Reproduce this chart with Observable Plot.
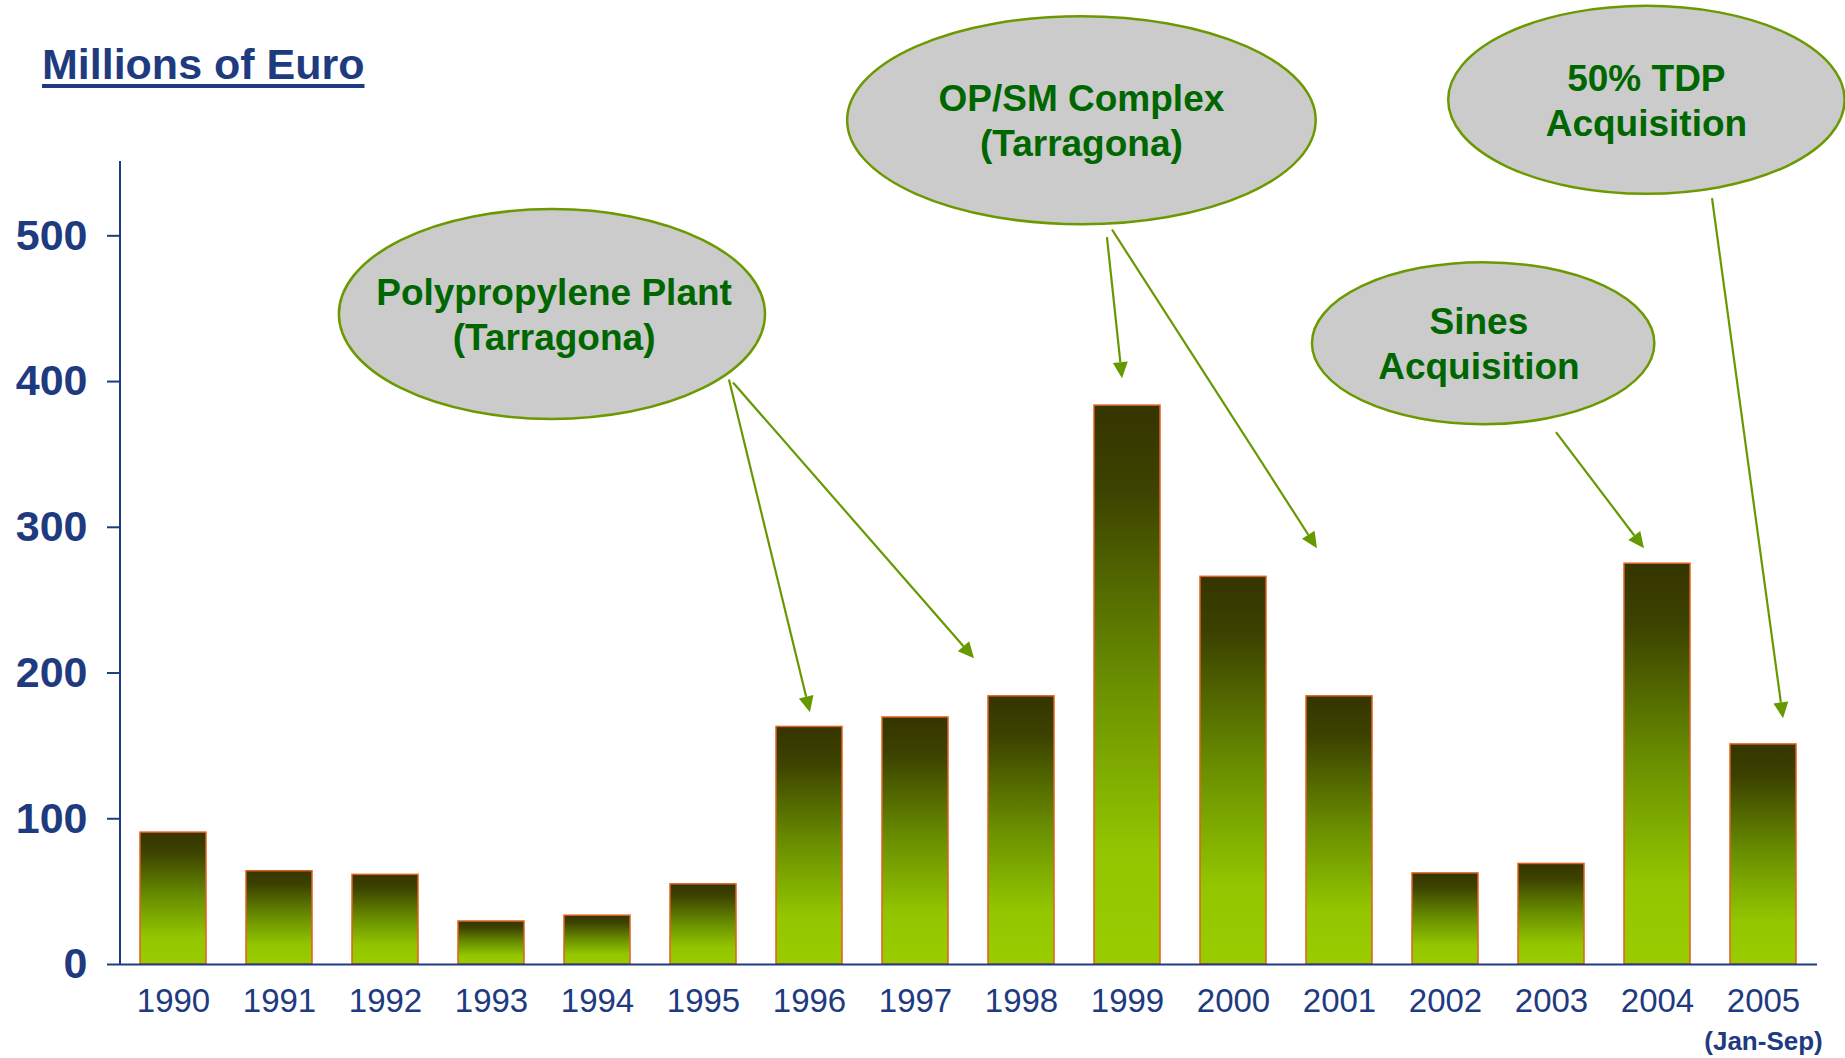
<!DOCTYPE html>
<html>
<head>
<meta charset="utf-8">
<script src="https://cdn.jsdelivr.net/npm/d3@7"></script>
<script src="https://cdn.jsdelivr.net/npm/@observablehq/plot@0.6"></script>
<style>
  html, body { margin: 0; padding: 0; background: #ffffff; }
  #wrap { position: relative; width: 1845px; height: 1058px; overflow: hidden; }
  #title {
    position: absolute; left: 42px; top: 43px;
    font: bold 43px "Liberation Sans", Arial, sans-serif; line-height: 43px;
    color: #1F3B7F; text-decoration: underline; text-decoration-thickness: 4px;
    text-underline-offset: 5px; white-space: nowrap;
  }
  #chart { position: absolute; left: 0; top: 0; }
</style>
</head>
<body>
<div id="wrap">
  <div id="chart"></div>
  <div id="title">Millions of Euro</div>
</div>
<script>
// ---- data ----
const years = ["1990","1991","1992","1993","1994","1995","1996","1997","1998","1999","2000","2001","2002","2003","2004","2005"];
const values = [90.5, 64, 61.5, 29.5, 33.5, 55, 163, 169.5, 184, 383.5, 266, 184, 62.5, 69, 275, 151];
const yTicks = [0, 100, 200, 300, 400, 500];
const footnote = "(Jan-Sep)";

// annotation callouts (position in band-index units along x, value units along y)
const calloutLines = [
  ["Polypropylene Plant", "(Tarragona)"],
  ["OP/SM Complex", "(Tarragona)"],
  ["50% TDP", "Acquisition"],
  ["Sines", "Acquisition"]
];
const calloutCenter = [[3.575, 446], [8.57, 579], [13.9, 593], [12.36, 426]];
const calloutRadius = [[2.01, 72], [2.21, 71.4], [1.87, 64.5], [1.615, 55.6]];
const calloutTextShift = [0.02, 0, 0, -0.04];
// arrows: [callout index, start idx, start value, tip idx, tip value]
const arrows = [
  [0, 5.245, 401, 6.009, 172.7],
  [0, 5.283, 399, 7.557, 209.8],
  [1, 8.811, 498.8, 8.953, 402],
  [1, 8.858, 504, 10.792, 285.3],
  [3, 13.047, 365, 13.877, 285.3],
  [2, 14.519, 525.5, 15.189, 168.6]
];

const data = years.map((year, i) => ({year, value: values[i]}));

const NAVY = "#1F3B7F";
const FONT = '"Liberation Sans", Arial, Helvetica, sans-serif';

function defsMark() {
  const defs = d3.create("svg:defs");
  const g = defs.append("linearGradient").attr("id", "barGrad")
    .attr("x1", 0).attr("y1", 0).attr("x2", 0).attr("y2", 1);
  [[0, "#353500"], [0.15, "#3c4200"], [0.5, "#6a9000"], [0.8, "#93c600"], [1, "#99cc00"]]
    .forEach(([o, c]) => g.append("stop").attr("offset", o).attr("stop-color", c));
  return defs.node();
}

function axisLineMark(index, scales, values, dims) {
  return d3.create("svg:line")
    .attr("x1", dims.marginLeft).attr("x2", dims.marginLeft)
    .attr("y1", dims.marginTop).attr("y2", dims.height - dims.marginBottom)
    .attr("stroke", NAVY).attr("stroke-width", 2).node();
}

function calloutMark(index, scales, values, dims) {
  const x = scales.x, y = scales.y;
  const step = x.step(), bw = x.bandwidth();
  const px = i => x(years[0]) + bw / 2 + i * step;
  const py = v => y(v);
  const k = y(0) - y(1);
  const g = d3.create("svg:g");
  // arrows
  for (const [, sx, sv, tx, tv] of arrows) {
    const x1 = px(sx), y1 = py(sv), x2 = px(tx), y2 = py(tv);
    const ang = Math.atan2(y2 - y1, x2 - x1);
    const L = 16, W = 7.5;
    const bx = x2 - L * Math.cos(ang), by = y2 - L * Math.sin(ang);
    g.append("line").attr("x1", x1).attr("y1", y1).attr("x2", bx).attr("y2", by)
      .attr("stroke", "#669900").attr("stroke-width", 2.2);
    const nx = -Math.sin(ang) * W, ny = Math.cos(ang) * W;
    g.append("polygon")
      .attr("points", `${x2},${y2} ${bx + nx},${by + ny} ${bx - nx},${by - ny}`)
      .attr("fill", "#669900");
  }
  // ellipses
  calloutLines.forEach((lines, i) => {
    const cx = px(calloutCenter[i][0]), cy = py(calloutCenter[i][1]);
    g.append("ellipse").attr("cx", cx).attr("cy", cy)
      .attr("rx", calloutRadius[i][0] * step).attr("ry", calloutRadius[i][1] * k)
      .attr("fill", "#CBCBCB").attr("stroke", "#6B9A00").attr("stroke-width", 2.5);
    const tx = px(calloutCenter[i][0] + calloutTextShift[i]);
    lines.forEach((t, j) => {
      g.append("text").attr("x", tx).attr("y", cy + (j === 0 ? -22 : 23) + 13)
        .attr("text-anchor", "middle").attr("font-family", FONT)
        .attr("font-size", 37).attr("font-weight", "bold").attr("fill", "#006600")
        .text(t);
    });
  });
  return g.node();
}

const plot = Plot.plot({
  width: 1845,
  height: 1058,
  marginLeft: 120,
  marginRight: 28,
  marginTop: 161,
  marginBottom: 94,
  style: {fontFamily: FONT, background: "transparent", overflow: "visible"},
  x: {type: "band", domain: years, paddingInner: 0.377, paddingOuter: 0.1885, label: null},
  y: {domain: [0, 551], label: null},
  marks: [
    defsMark,
    Plot.barY(data, {x: "year", y: "value", fill: "url(#barGrad)", stroke: "#E0601E", strokeWidth: 1.5}),
    Plot.ruleY([0], {stroke: NAVY, strokeWidth: 2}),
    axisLineMark,
    Plot.axisY({ticks: yTicks, tickSize: 13, tickPadding: 20, fontSize: 43, fontWeight: "bold",
      color: NAVY, strokeWidth: 2, strokeOpacity: 1, tickFormat: d => String(d), label: null}),
    Plot.axisX({tickSize: 0, tickPadding: 24, fontSize: 33, color: NAVY, label: null}),
    Plot.text([footnote], {x: ["2005"], frameAnchor: "bottom", dy: 77, fontSize: 26,
      fontWeight: "bold", fill: NAVY, lineAnchor: "middle", text: d => d}),
    calloutMark
  ]
});
document.getElementById("chart").appendChild(plot);
</script>
</body>
</html>
